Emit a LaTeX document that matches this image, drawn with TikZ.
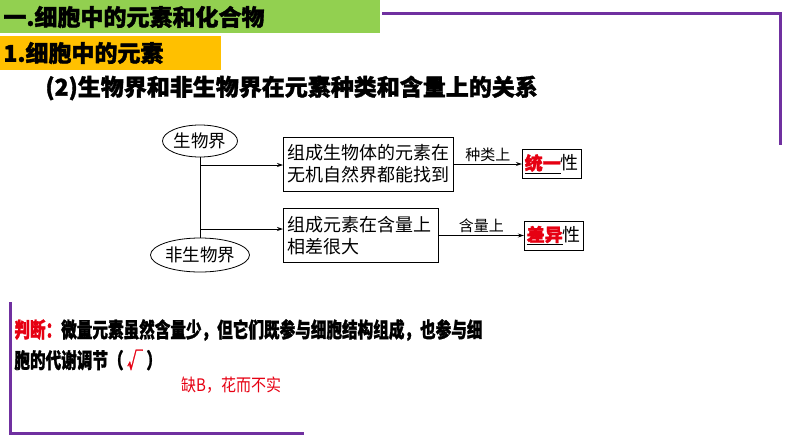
\documentclass[tikz,border=0pt]{standalone}
\usepackage{fontspec}
\setmainfont{Noto Sans CJK SC}[BoldFeatures={FakeBold=1.5}]
\usepackage{tikz}
\usetikzlibrary{arrows.meta,positioning,shapes.geometric}
\definecolor{hdrgreen}{RGB}{146,208,80}
\definecolor{hdrorange}{RGB}{255,192,0}
\definecolor{framepurple}{RGB}{112,48,160}
\definecolor{markred}{RGB}{230,0,18}

\begin{document}
\begin{tikzpicture}[x=1pt,y=-1pt,line width=0.8pt,
   hdr/.style={anchor=north west,inner sep=2pt,align=left,font=\bfseries},
   oval/.style={draw,ellipse,inner sep=0pt,font=\fontsize{17.5}{20}\selectfont},
   t/.style={draw,anchor=west,align=left,inner sep=4pt,minimum height=54pt,
             font=\fontsize{18}{22}\selectfont},
   res/.style={draw,inner sep=2pt,minimum height=29pt,minimum width=59pt,
               font=\fontsize{18}{20}\selectfont},
   lbl/.style={font=\fontsize{15}{17}\selectfont,inner sep=2pt},
   arr/.style={-{Stealth[length=6pt,width=4pt]}},
   frame/.style={draw=framepurple,line width=3pt}]
  \useasboundingbox (0,0) rectangle (794,447);
  % header bars
  \fill[hdrgreen] (0,0) rectangle (380,33);
  \fill[hdrorange] (0,36) rectangle (221,70);
  \node[hdr,font=\fontsize{23}{25}\selectfont\bfseries,anchor=west] (sec) at (1,17) {一.细胞中的元素和化合物};
  \node[hdr,font=\fontsize{23}{25}\selectfont\bfseries,anchor=west] (sub) at (1,53) {1.细胞中的元素};
  \draw[frame] (382,13) -- (780,13) -- (780,145);
  \draw[frame] (10,302) -- (10,433) -- (304,433);
  \node[hdr,font=\fontsize{23}{25}\selectfont\bfseries,anchor=west] (ttl) at (43,88) {(2)生物界和非生物界在元素种类和含量上的关系};

  % diagram
  \node[oval,minimum width=75pt,minimum height=32pt] (sw) at (200,141) {生物界};
  \node[oval,minimum width=86pt,minimum height=34pt] (fw) at (200,255) {非生物界};
  \draw (sw.south) -- (fw.north);
  \coordinate (j1) at (200,165);
  \coordinate (j2) at (200,229);
  \node[t] (c1) at (283,164) {组成生物体的元素在\\无机自然界都能找到};
  \node[t,text width=147pt] (c2) at (283,235.5) {组成元素在含量上\\相差很大};
  \draw[arr] (j1) -- (j1 -| c1.west);
  \draw[arr] (j2) -- (j2 -| c2.west);
  \node[res,right=68pt of c1] (u) {\underline{\textcolor{markred}{\bfseries 统一}}性};
  \node[res,right=85pt of c2] (d) {\underline{\textcolor{markred}{\bfseries 差异}}性};
  \draw[arr] (c1.east) -- (u.west) node[lbl,midway,above] {种类上};
  \draw[arr] (c2.east) -- (d.west) node[lbl,midway,above] {含量上};

  % judgement
  \node[anchor=west,inner sep=0pt,font=\fontsize{21}{23}\selectfont\bfseries] (q1) at (14,330)
    {\scalebox{0.743}[1]{\textcolor{markred}{判断：}微量元素虽然含量少，但它们既参与细胞结构组成，也参与细}};
  \node[anchor=west,inner sep=0pt,font=\fontsize{21}{23}\selectfont\bfseries] (q2) at (14,360)
    {\scalebox{0.743}[1]{胞的代谢调节（ \textcolor{markred}{√} ）}};
  \node[anchor=west,inner sep=0pt,text=markred,font=\fontsize{15}{17}\selectfont] (note) at (181,385) {\scalebox{1}[1.15]{缺B，花而不实}};
\end{tikzpicture}
\end{document}
